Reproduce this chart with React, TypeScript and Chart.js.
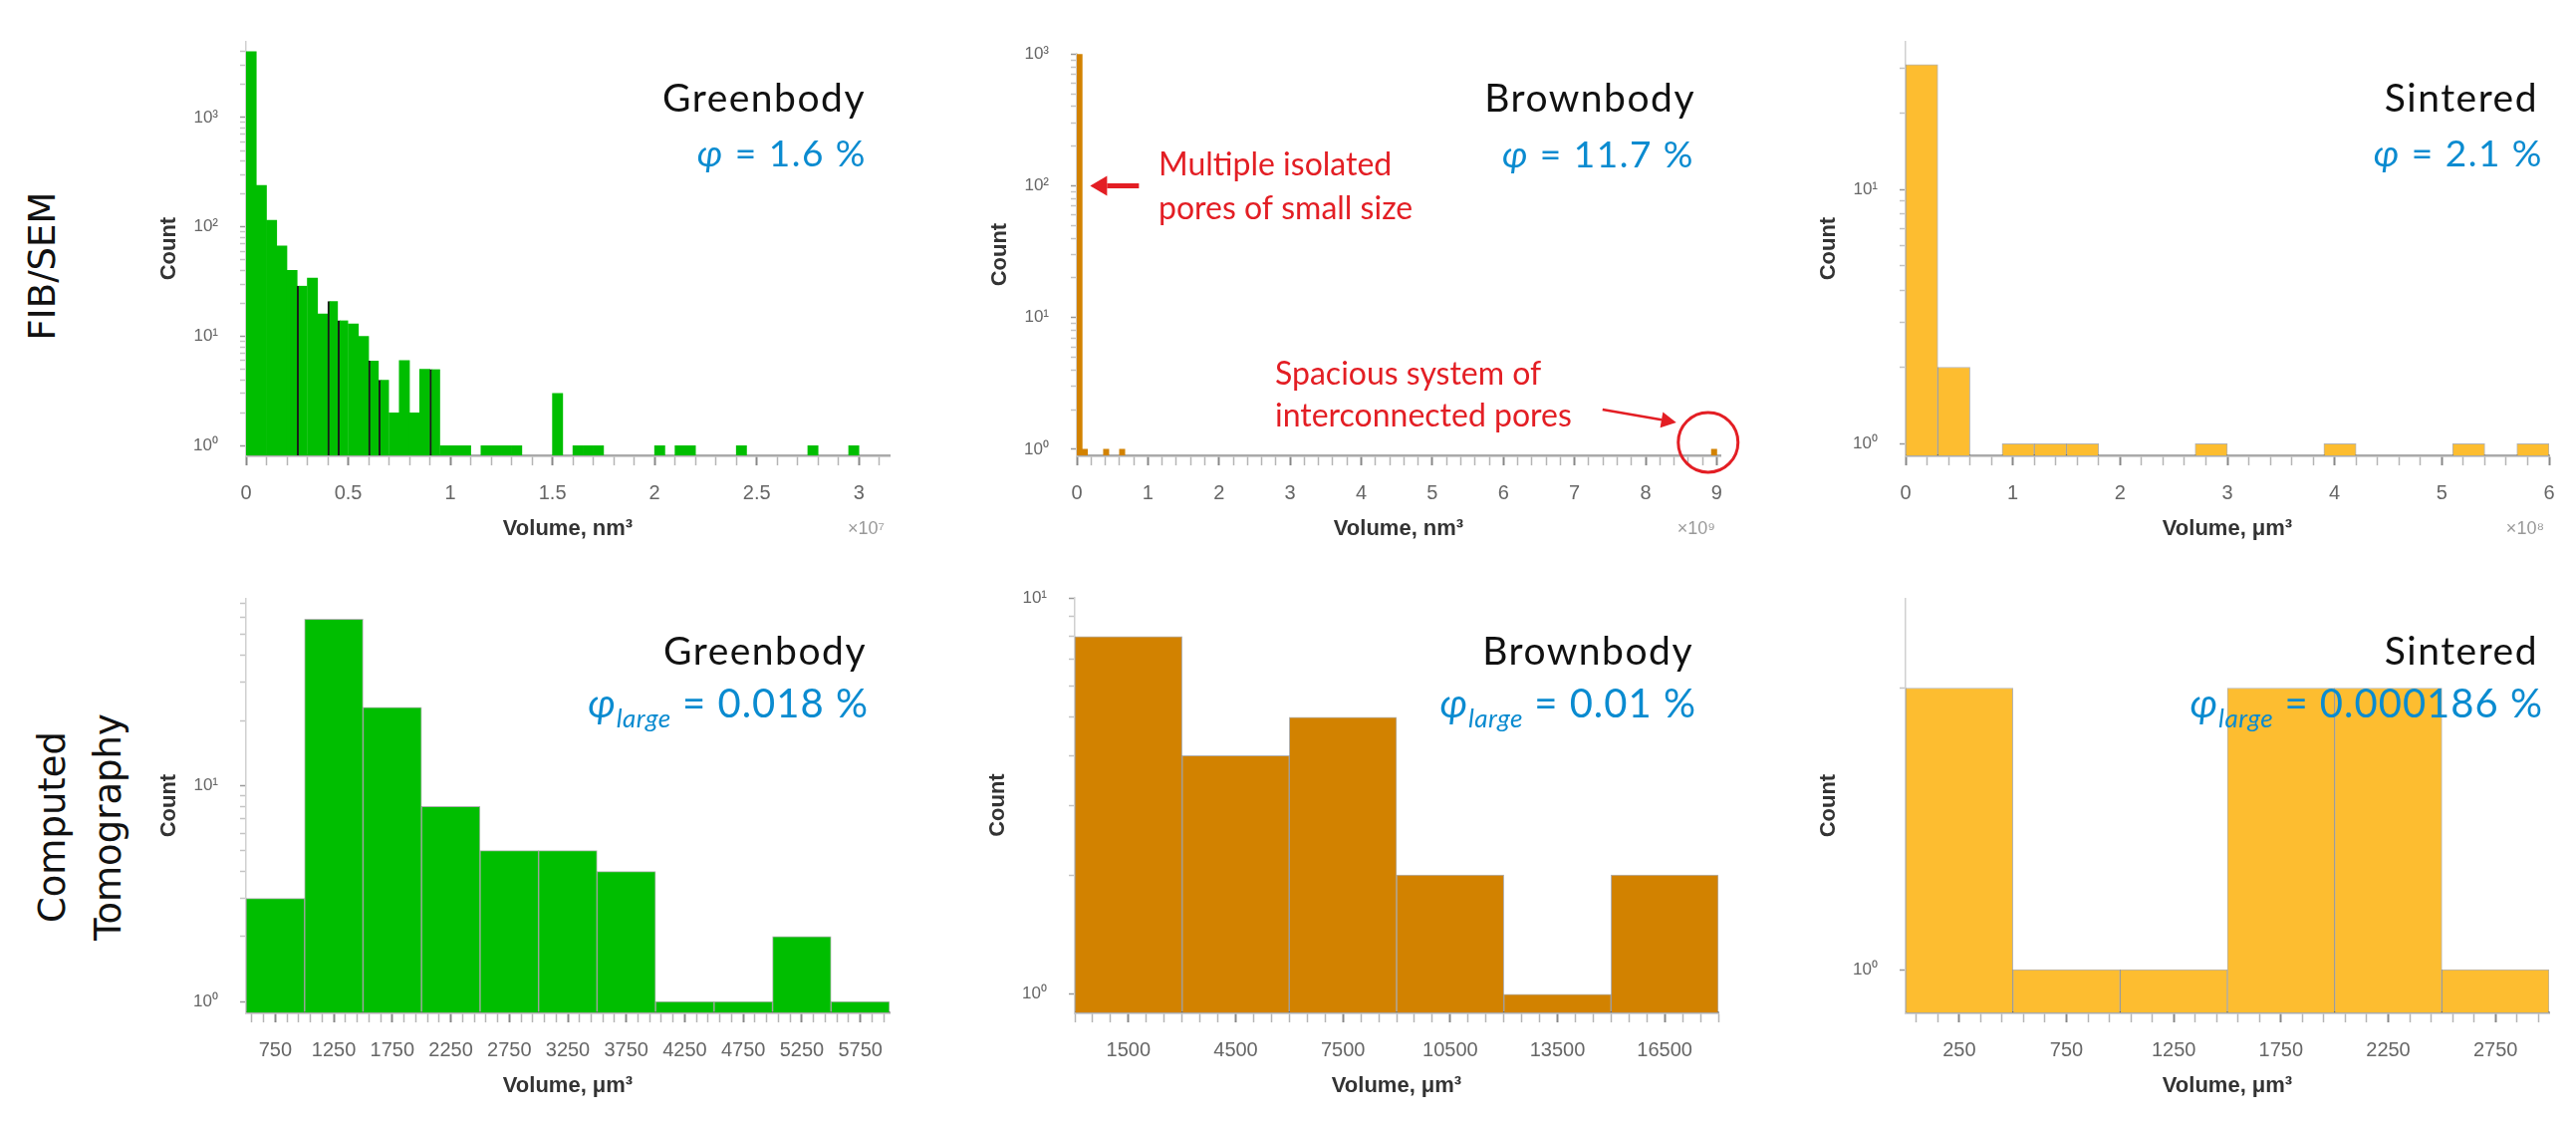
import React, { useEffect, useRef } from 'react';
import { Chart, registerables } from 'chart.js';

Chart.register(...registerables);
Chart.defaults.font.family = "'Liberation Sans', Arial, sans-serif";

// ======================= DATA =======================
// Row 1 – FIB/SEM
// Greenbody: bins of 5·10^5 nm³ starting at 0 (one entry per bin)
const FIB_GREEN_BIN_START = 0;
const FIB_GREEN_BIN_WIDTH = 5e5;
const FIB_GREEN_COUNTS = [
  4000, 240, 115, 67, 40, 29, 34, 16, 21, 14,
  13, 10, 6, 4, 2, 6, 2, 5, 5, 1,
  1, 1, 0, 1, 1, 1, 1, 0, 0, 0,
  3, 0, 1, 1, 1, 0, 0, 0, 0, 0,
  1, 0, 1, 1, 0, 0, 0, 0, 1, 0,
  0, 0, 0, 0, 0, 1, 0, 0, 0, 1,
];
// bins whose left edge is drawn as a dark line in the original histogram
const FIB_GREEN_EDGE_BINS = [5, 8, 9, 12, 13, 18];
const FIB_GREEN_X_TICKS = [0, 5e6, 1e7, 1.5e7, 2e7, 2.5e7, 3e7];
const FIB_GREEN_X_LABELS = ['0', '0.5', '1', '1.5', '2', '2.5', '3'];
const FIB_GREEN_Y_TICKS = [1, 10, 100, 1000];

// Brownbody: bins of 7.5·10^7 nm³; only the non-empty bins are listed
const FIB_BROWN_BIN_START = 0;
const FIB_BROWN_BIN_WIDTH = 7.5e7;
const FIB_BROWN_BIN_INDEX = [0, 1, 5, 8, 119];
const FIB_BROWN_COUNTS = [1000, 1, 1, 1, 1];
const FIB_BROWN_X_TICKS = [0, 1e9, 2e9, 3e9, 4e9, 5e9, 6e9, 7e9, 8e9, 9e9];
const FIB_BROWN_X_LABELS = ['0', '1', '2', '3', '4', '5', '6', '7', '8', '9'];
const FIB_BROWN_Y_TICKS = [1, 10, 100, 1000];

// Sintered: bins of 3·10^7 µm³
const FIB_SINT_BIN_START = 0;
const FIB_SINT_BIN_WIDTH = 3e7;
const FIB_SINT_COUNTS = [31, 2, 0, 1, 1, 1, 0, 0, 0, 1, 0, 0, 0, 1, 0, 0, 0, 1, 0, 1];
const FIB_SINT_X_TICKS = [0, 1e8, 2e8, 3e8, 4e8, 5e8, 6e8];
const FIB_SINT_X_LABELS = ['0', '1', '2', '3', '4', '5', '6'];
const FIB_SINT_Y_TICKS = [1, 10];

// Row 2 – Computed Tomography
const CT_GREEN_BIN_START = 500;
const CT_GREEN_BIN_WIDTH = 500;
const CT_GREEN_COUNTS = [3, 59, 23, 8, 5, 5, 4, 1, 1, 2, 1];
const CT_GREEN_X_TICKS = [750, 1250, 1750, 2250, 2750, 3250, 3750, 4250, 4750, 5250, 5750];
const CT_GREEN_Y_TICKS = [1, 10];

const CT_BROWN_BIN_START = 0;
const CT_BROWN_BIN_WIDTH = 3000;
const CT_BROWN_COUNTS = [8, 4, 5, 2, 1, 2];
const CT_BROWN_X_TICKS = [1500, 4500, 7500, 10500, 13500, 16500];
const CT_BROWN_Y_TICKS = [1, 10];

const CT_SINT_BIN_START = 0;
const CT_SINT_BIN_WIDTH = 500;
const CT_SINT_COUNTS = [2, 1, 1, 2, 2, 1];
const CT_SINT_X_TICKS = [250, 750, 1250, 1750, 2250, 2750];
const CT_SINT_Y_TICKS = [1];

// Panel texts
const TITLES = ['Greenbody', 'Brownbody', 'Sintered', 'Greenbody', 'Brownbody', 'Sintered'];
const PHI_VALUES = ['1.6 %', '11.7 %', '2.1 %', '0.018 %', '0.01 %', '0.000186 %'];
const ROW_LABELS = ['FIB/SEM', 'Computed\nTomography'];
const NOTE_SMALL = ['Multiple isolated', 'pores of small size'];
const NOTE_LARGE = ['Spacious system of', 'interconnected pores'];

// ======================= STYLE =======================
const GREEN = '#00BE00';
const BROWN = '#D28200';
const YELLOW = '#FDBD30';
const BLUE = '#0A8BD0';
const RED = '#E31E24';
const SUP = ['⁰', '¹', '²', '³', '⁴', '⁵', '⁶', '⁷', '⁸', '⁹'];
const PLOT_W = 646;
const Y_BOX = 130;
const X_BOX = 100;
const PAD_TOP = 20;
const PAD_RIGHT = 25;

type Spec = {
  key: string;
  plotLeft: number; plotTop: number; plotH: number;
  binStart: number; binWidth: number; counts: number[]; binIndex?: number[];
  color: string; border: string | null; edgeBins?: number[];
  xMin: number; xMax: number; xTicks: number[]; xLabels: string[]; xMinor: number;
  yMin: number; yMax: number; yTicks: number[];
  xTitle: string; exponent?: string;
  title: string; phiSub?: string; phiValue: string;
  titleSize: number; phiSize: number; phiSpacing: number;
  titleBase: number; phiBase: number; titleDx: number; phiDx: number;
  annotate?: boolean;
};

const PANELS: Spec[] = [
  {
    key: 'fib-green', plotLeft: 247, plotTop: 30, plotH: 427,
    binStart: FIB_GREEN_BIN_START, binWidth: FIB_GREEN_BIN_WIDTH, counts: FIB_GREEN_COUNTS,
    color: GREEN, border: null, edgeBins: FIB_GREEN_EDGE_BINS,
    xMin: 0, xMax: 3.15e7, xTicks: FIB_GREEN_X_TICKS, xLabels: FIB_GREEN_X_LABELS, xMinor: 1e6,
    yMin: 0.816, yMax: 4900, yTicks: FIB_GREEN_Y_TICKS,
    xTitle: 'Volume, nm³', exponent: '×10⁷',
    title: TITLES[0], phiValue: PHI_VALUES[0], titleSize: 39, phiSize: 37, phiSpacing: 1.5,
    titleBase: 70, phiBase: 125, titleDx: -24, phiDx: -23,
  },
  {
    key: 'fib-brown', plotLeft: 1081, plotTop: 42, plotH: 415,
    binStart: FIB_BROWN_BIN_START, binWidth: FIB_BROWN_BIN_WIDTH, counts: FIB_BROWN_COUNTS, binIndex: FIB_BROWN_BIN_INDEX,
    color: BROWN, border: null,
    xMin: 0, xMax: 9.05e9, xTicks: FIB_BROWN_X_TICKS, xLabels: FIB_BROWN_X_LABELS, xMinor: 2e8,
    yMin: 0.9, yMax: 1000, yTicks: FIB_BROWN_Y_TICKS,
    xTitle: 'Volume, nm³', exponent: '×10⁹',
    title: TITLES[1], phiValue: PHI_VALUES[1], titleSize: 39, phiSize: 37, phiSpacing: 1.5,
    titleBase: 58, phiBase: 114, titleDx: -25, phiDx: -26, annotate: true,
  },
  {
    key: 'fib-sint', plotLeft: 1913, plotTop: 30, plotH: 427,
    binStart: FIB_SINT_BIN_START, binWidth: FIB_SINT_BIN_WIDTH, counts: FIB_SINT_COUNTS,
    color: YELLOW, border: 'rgba(0,0,0,0.3)',
    xMin: 0, xMax: 6e8, xTicks: FIB_SINT_X_TICKS, xLabels: FIB_SINT_X_LABELS, xMinor: 2e7,
    yMin: 0.9, yMax: 38, yTicks: FIB_SINT_Y_TICKS,
    xTitle: 'Volume, μm³', exponent: '×10⁸',
    title: TITLES[2], phiValue: PHI_VALUES[2], titleSize: 39, phiSize: 37, phiSpacing: 1.5,
    titleBase: 70, phiBase: 125, titleDx: -11, phiDx: -6,
  },
  {
    key: 'ct-green', plotLeft: 247, plotTop: 589, plotH: 427,
    binStart: CT_GREEN_BIN_START, binWidth: CT_GREEN_BIN_WIDTH, counts: CT_GREEN_COUNTS,
    color: GREEN, border: 'rgba(0,0,0,0.3)',
    xMin: 500, xMax: 6000, xTicks: CT_GREEN_X_TICKS, xLabels: CT_GREEN_X_TICKS.map(String), xMinor: 100,
    yMin: 0.89, yMax: 73, yTicks: CT_GREEN_Y_TICKS,
    xTitle: 'Volume, μm³',
    title: TITLES[3], phiSub: 'large', phiValue: PHI_VALUES[3], titleSize: 39, phiSize: 40, phiSpacing: 1,
    titleBase: 66, phiBase: 119, titleDx: -23, phiDx: -21,
  },
  {
    key: 'ct-brown', plotLeft: 1079, plotTop: 588, plotH: 428,
    binStart: CT_BROWN_BIN_START, binWidth: CT_BROWN_BIN_WIDTH, counts: CT_BROWN_COUNTS,
    color: BROWN, border: 'rgba(0,0,0,0.3)',
    xMin: 0, xMax: 18000, xTicks: CT_BROWN_X_TICKS, xLabels: CT_BROWN_X_TICKS.map(String), xMinor: 500,
    yMin: 0.9, yMax: 10, yTicks: CT_BROWN_Y_TICKS,
    xTitle: 'Volume, μm³',
    title: TITLES[4], phiSub: 'large', phiValue: PHI_VALUES[4], titleSize: 39, phiSize: 40, phiSpacing: 1,
    titleBase: 67, phiBase: 120, titleDx: -25, phiDx: -22,
  },
  {
    key: 'ct-sint', plotLeft: 1913, plotTop: 589, plotH: 427,
    binStart: CT_SINT_BIN_START, binWidth: CT_SINT_BIN_WIDTH, counts: CT_SINT_COUNTS,
    color: YELLOW, border: 'rgba(0,0,0,0.3)',
    xMin: 0, xMax: 3000, xTicks: CT_SINT_X_TICKS, xLabels: CT_SINT_X_TICKS.map(String), xMinor: 100,
    yMin: 0.9, yMax: 2.49, yTicks: CT_SINT_Y_TICKS,
    xTitle: 'Volume, μm³',
    title: TITLES[5], phiSub: 'large', phiValue: PHI_VALUES[5], titleSize: 39, phiSize: 40, phiSpacing: 1,
    titleBase: 66, phiBase: 119, titleDx: -11, phiDx: -6,
  },
];

// ======================= HELPERS =======================
function histPoints(s: Spec) {
  const idx = s.binIndex ?? s.counts.map((_, i) => i);
  return idx.map((k, i) => ({
    x: s.binStart + (k + 0.5) * s.binWidth,
    y: s.counts[i] > 0 ? s.counts[i] : null,
  }));
}

function linearTickValues(min: number, max: number, majors: number[], step: number) {
  const m0 = majors[0];
  const kMin = Math.ceil((min - m0) / step - 1e-6);
  const kMax = Math.floor((max - m0) / step + 1e-6);
  const out: number[] = [];
  for (let k = kMin; k <= kMax; k++) out.push(m0 + k * step);
  return out;
}

function logTickValues(min: number, max: number, majors: number[]) {
  const out: number[] = [];
  for (const d of majors) {
    for (let m = 1; m <= 9; m++) {
      const v = m * d;
      if (v >= min * 0.9999 && v <= max * 1.0001) out.push(v);
    }
  }
  return out;
}

const LATO = "Lato, 'Open Sans', sans-serif";

function arrow(ctx: CanvasRenderingContext2D, x0: number, y0: number, x1: number, y1: number, lw: number, head: number, hw: number) {
  const ang = Math.atan2(y1 - y0, x1 - x0);
  const bx = x1 - head * Math.cos(ang);
  const by = y1 - head * Math.sin(ang);
  ctx.strokeStyle = RED;
  ctx.fillStyle = RED;
  ctx.lineWidth = lw;
  ctx.beginPath();
  ctx.moveTo(x0, y0);
  ctx.lineTo(bx, by);
  ctx.stroke();
  ctx.beginPath();
  ctx.moveTo(x1, y1);
  ctx.lineTo(bx + hw * Math.sin(ang), by - hw * Math.cos(ang));
  ctx.lineTo(bx - hw * Math.sin(ang), by + hw * Math.cos(ang));
  ctx.closePath();
  ctx.fill();
}

function setSpacing(ctx: any, px: number) {
  if ('letterSpacing' in ctx) ctx.letterSpacing = `${px}px`;
}

function decoPlugin(s: Spec) {
  return {
    id: 'deco-' + s.key,
    afterDraw(chart: any) {
      const { ctx, chartArea: a } = chart;
      ctx.save();
      // panel title
      ctx.fillStyle = '#111';
      ctx.font = `${s.titleSize}px ${LATO}`;
      setSpacing(ctx, 1.5);
      ctx.textAlign = 'right';
      ctx.textBaseline = 'alphabetic';
      ctx.fillText(s.title, a.right + s.titleDx, a.top + s.titleBase);

      // porosity line
      const pieces: { text: string; font: string; dy: number; sp: number }[] = [
        { text: 'φ', font: `italic ${s.phiSize}px ${LATO}`, dy: 0, sp: s.phiSpacing },
      ];
      if (s.phiSub) pieces.push({ text: s.phiSub, font: `italic ${Math.round(s.phiSize * 0.66)}px ${LATO}`, dy: Math.round(s.phiSize * 0.25), sp: 0.5 });
      pieces.push({ text: ' = ' + s.phiValue, font: `${s.phiSize}px ${LATO}`, dy: 0, sp: s.phiSpacing });
      let total = 0;
      for (const p of pieces) { ctx.font = p.font; setSpacing(ctx, p.sp); total += ctx.measureText(p.text).width; }
      let x = a.right + s.phiDx - total;
      ctx.textAlign = 'left';
      ctx.fillStyle = BLUE;
      for (const p of pieces) {
        ctx.font = p.font;
        setSpacing(ctx, p.sp);
        ctx.fillText(p.text, x, a.top + s.phiBase + p.dy);
        x += ctx.measureText(p.text).width;
      }
      setSpacing(ctx, 0);

      // axis exponent
      if (s.exponent) {
        ctx.font = "18px 'Liberation Sans', Arial, sans-serif";
        ctx.fillStyle = '#999';
        ctx.textAlign = 'right';
        ctx.textBaseline = 'middle';
        ctx.fillText(s.exponent, a.right - 5, a.bottom + 74);
      }

      if (s.annotate) {
        const xs = chart.scales.xb;
        const ys = chart.scales.y;
        ctx.fillStyle = RED;
        ctx.font = `32px ${LATO}`;
        ctx.textAlign = 'left';
        ctx.textBaseline = 'middle';
        ctx.fillText(NOTE_SMALL[0], a.left + 82, a.top + 111);
        ctx.fillText(NOTE_SMALL[1], a.left + 82, a.top + 155);
        const tipX = xs.getPixelForValue(s.binStart + s.binWidth) + 8;
        const tipY = ys.getPixelForValue(100);
        arrow(ctx, tipX + 49, tipY, tipX, tipY, 5, 17, 10);

        ctx.fillStyle = RED;
        ctx.fillText(NOTE_LARGE[0], a.left + 199, a.top + 321);
        ctx.fillText(NOTE_LARGE[1], a.left + 199, a.top + 363);
        const lastK = s.binIndex ? s.binIndex[s.binIndex.length - 1] : 0;
        const cx = xs.getPixelForValue(s.binStart + (lastK + 0.5) * s.binWidth) - 6;
        const cy = ys.getPixelForValue(1) - 7;
        ctx.strokeStyle = RED;
        ctx.lineWidth = 3;
        ctx.beginPath();
        ctx.arc(cx, cy, 30, 0, Math.PI * 2);
        ctx.stroke();
        arrow(ctx, cx - 106, cy - 33, cx - 32, cy - 20, 2.5, 15, 8);
      }
      ctx.restore();
    },
  };
}

function buildConfig(s: Spec): any {
  const xVals = linearTickValues(s.xMin, s.xMax, s.xTicks, s.xMinor);
  const yVals = logTickValues(s.yMin, s.yMax, s.yTicks);
  const isMajorX = (v: number) => s.xTicks.findIndex((m) => Math.abs(m - v) < s.xMinor * 1e-3);
  const isMajorY = (v: number) => s.yTicks.some((m) => Math.abs(m - v) < m * 1e-6);
  const edges = s.edgeBins ?? [];
  return {
    type: 'bar',
    data: {
      datasets: [
        {
          data: histPoints(s),
          xAxisID: 'xb',
          yAxisID: 'y',
          backgroundColor: s.color,
          borderColor: s.border ?? '#1a1a1a',
          borderWidth: (c: any) => {
            if (s.border) return 1;
            return edges.includes(c.dataIndex) ? { left: 2, right: 0, top: 0, bottom: 0 } : 0;
          },
          borderSkipped: 'start',
          barPercentage: 1,
          categoryPercentage: 1,
          grouped: false,
        },
      ],
    },
    options: {
      responsive: false,
      maintainAspectRatio: false,
      animation: false,
      layout: { padding: { left: 0, top: PAD_TOP, right: PAD_RIGHT, bottom: 0 } },
      plugins: { legend: { display: false }, tooltip: { enabled: false } },
      scales: {
        xb: {
          type: 'linear', display: false, min: s.xMin, max: s.xMax, bounds: 'data', offset: false,
          grid: { offset: false },
          afterBuildTicks: (sc: any) => { sc.ticks = [{ value: s.xMin }, { value: s.xMax }]; },
        },
        x: {
          type: 'linear', position: 'bottom', min: s.xMin, max: s.xMax, bounds: 'data', offset: false,
          afterFit: (sc: any) => { sc.height = X_BOX; },
          afterBuildTicks: (sc: any) => { sc.ticks = xVals.map((v) => ({ value: v })); },
          ticks: {
            autoSkip: false, maxRotation: 0, minRotation: 0, padding: 16, color: '#666',
            font: { size: 20 },
            callback: (v: number) => { const i = isMajorX(v); return i >= 0 ? s.xLabels[i] : ''; },
          },
          grid: {
            offset: false, drawOnChartArea: false, drawTicks: true, tickLength: 10,
            tickColor: (c: any) => (c.tick && isMajorX(c.tick.value) >= 0 ? '#888' : '#b5b5b5'),
            tickWidth: (c: any) => (c.tick && isMajorX(c.tick.value) >= 0 ? 2 : 1.5),
          },
          border: { display: true, color: '#aaa', width: 2.5 },
          title: {
            display: true, text: s.xTitle, color: '#333',
            font: { size: 22, weight: 'bold' }, padding: { top: 0, bottom: 13 },
          },
        },
        y: {
          type: 'logarithmic', min: s.yMin, max: s.yMax, bounds: 'data',
          afterFit: (sc: any) => { sc.width = Y_BOX; },
          afterBuildTicks: (sc: any) => { sc.ticks = yVals.map((v) => ({ value: v })); },
          ticks: {
            autoSkip: false, padding: 22, color: '#666', font: { size: 17 },
            callback: (v: number) => (isMajorY(v) ? '10' + SUP[Math.round(Math.log10(v))] : ''),
          },
          grid: {
            drawOnChartArea: false, drawTicks: true, tickLength: 6,
            tickColor: (c: any) => (c.tick && isMajorY(c.tick.value) ? '#999' : '#c4c4c4'),
            tickWidth: 1.5,
          },
          border: { display: true, color: '#d0d0d0', width: 1.5 },
          title: {
            display: true, text: 'Count', color: '#333',
            font: { size: 22, weight: 'bold' }, padding: { top: 40, bottom: 0 },
          },
        },
      },
    },
    plugins: [decoPlugin(s)],
  };
}

function HistPanel({ spec }: { spec: Spec }) {
  const ref = useRef<HTMLCanvasElement | null>(null);
  const w = Y_BOX + PLOT_W + PAD_RIGHT;
  const h = PAD_TOP + spec.plotH + X_BOX;
  useEffect(() => {
    if (!ref.current) return;
    const chart = new Chart(ref.current, buildConfig(spec));
    return () => chart.destroy();
  }, [spec]);
  return (
    <canvas
      ref={ref}
      width={w}
      height={h}
      style={{ position: 'absolute', left: spec.plotLeft - Y_BOX, top: spec.plotTop - PAD_TOP, width: w, height: h }}
    />
  );
}

function rowLabel(cx: number, cy: number): React.CSSProperties {
  return {
    position: 'absolute', left: cx, top: cy,
    transform: 'translate(-50%, -50%) rotate(-90deg)',
    fontFamily: "'DejaVu Sans', sans-serif", fontSize: 37, lineHeight: '56px',
    whiteSpace: 'pre', textAlign: 'center', color: '#111',
  };
}

export default function App() {
  return (
    <div style={{ position: 'absolute', left: 0, top: 0, width: 2586, height: 1128, overflow: 'hidden', background: '#fff' }}>
      <div style={rowLabel(43, 267)}>{ROW_LABELS[0]}</div>
      <div style={rowLabel(81, 830)}>{ROW_LABELS[1]}</div>
      {PANELS.map((p) => <HistPanel key={p.key} spec={p} />)}
    </div>
  );
}
